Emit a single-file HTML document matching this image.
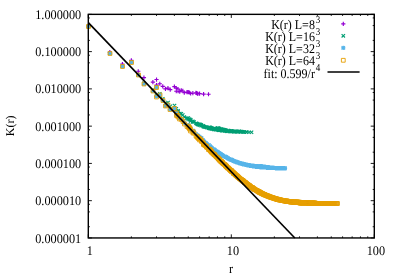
<!DOCTYPE html>
<html><head><meta charset="utf-8"><title>K(r)</title>
<style>
html,body{margin:0;padding:0;background:#fff;}
svg{display:block;font-family:"Liberation Serif",serif;font-size:13.2px;fill:#000;text-rendering:geometricPrecision;}
g.t{filter:grayscale(1);}
path{fill:none;}
</style></head><body>
<svg width="396" height="277" viewBox="0 0 396 277">
<rect x="0" y="0" width="396" height="277" fill="#fff"/>
<path d="M88.3 14.35h3.6M374.3 14.35h-3.6M88.3 17.96h1.6M374.3 17.96h-1.6M88.3 25.57h1.6M374.3 25.57h-1.6M88.3 40.4h1.6M374.3 40.4h-1.6M88.3 51.62h3.6M374.3 51.62h-3.6M88.3 55.23h1.6M374.3 55.23h-1.6M88.3 62.84h1.6M374.3 62.84h-1.6M88.3 77.66h1.6M374.3 77.66h-1.6M88.3 88.88h3.6M374.3 88.88h-3.6M88.3 92.49h1.6M374.3 92.49h-1.6M88.3 100.1h1.6M374.3 100.1h-1.6M88.3 114.93h1.6M374.3 114.93h-1.6M88.3 126.15h3.6M374.3 126.15h-3.6M88.3 129.76h1.6M374.3 129.76h-1.6M88.3 137.37h1.6M374.3 137.37h-1.6M88.3 152.2h1.6M374.3 152.2h-1.6M88.3 163.42h3.6M374.3 163.42h-3.6M88.3 167.03h1.6M374.3 167.03h-1.6M88.3 174.64h1.6M374.3 174.64h-1.6M88.3 189.46h1.6M374.3 189.46h-1.6M88.3 200.68h3.6M374.3 200.68h-3.6M88.3 204.29h1.6M374.3 204.29h-1.6M88.3 211.9h1.6M374.3 211.9h-1.6M88.3 226.73h1.6M374.3 226.73h-1.6M88.3 237.95h3.6M374.3 237.95h-3.6M88.3 237.95v-3.6M88.3 14.35v3.6M131.35 237.95v-1.6M131.35 14.35v1.6M156.53 237.95v-1.6M156.53 14.35v1.6M174.39 237.95v-1.6M174.39 14.35v1.6M188.25 237.95v-1.6M188.25 14.35v1.6M199.58 237.95v-1.6M199.58 14.35v1.6M209.15 237.95v-1.6M209.15 14.35v1.6M217.44 237.95v-1.6M217.44 14.35v1.6M224.76 237.95v-1.6M224.76 14.35v1.6M231.3 237.95v-3.6M231.3 14.35v3.6M274.35 237.95v-1.6M274.35 14.35v1.6M299.53 237.95v-1.6M299.53 14.35v1.6M317.39 237.95v-1.6M317.39 14.35v1.6M331.25 237.95v-1.6M331.25 14.35v1.6M342.58 237.95v-1.6M342.58 14.35v1.6M352.15 237.95v-1.6M352.15 14.35v1.6M360.44 237.95v-1.6M360.44 14.35v1.6M367.76 237.95v-1.6M367.76 14.35v1.6M374.3 237.95v-3.6M374.3 14.35v3.6" stroke="#000" stroke-width="0.9"/>
<path d="M86.2 26.29h4.2m-2.1-2.1v4.2M107.72 52.2h4.2m-2.1-2.1v4.2M120.31 64.02h4.2m-2.1-2.1v4.2M129.25 60.39h4.2m-2.1-2.1v4.2M136.18 71.23h4.2m-2.1-2.1v4.2M141.84 77.66h4.2m-2.1-2.1v4.2M150.77 82.08h4.2m-2.1-2.1v4.2M154.43 85.03h4.2m-2.1-2.1v4.2M163.36 88.86h4.2m-2.1-2.1v4.2M154.43 79.54h4.2m-2.1-2.1v4.2M157.7 83.75h4.2m-2.1-2.1v4.2M160.66 86.35h4.2m-2.1-2.1v4.2M165.85 88.12h4.2m-2.1-2.1v4.2M168.15 89.61h4.2m-2.1-2.1v4.2M174.18 91.23h4.2m-2.1-2.1v4.2M175.95 91.22h4.2m-2.1-2.1v4.2M177.63 91.69h4.2m-2.1-2.1v4.2M182.18 92.69h4.2m-2.1-2.1v4.2M188.54 93.52h4.2m-2.1-2.1v4.2M172.29 86.55h4.2m-2.1-2.1v4.2M174.18 88.08h4.2m-2.1-2.1v4.2M175.95 89.04h4.2m-2.1-2.1v4.2M179.22 90.4h4.2m-2.1-2.1v4.2M180.74 90.97h4.2m-2.1-2.1v4.2M184.89 92.19h4.2m-2.1-2.1v4.2M186.15 92.18h4.2m-2.1-2.1v4.2M187.37 92.49h4.2m-2.1-2.1v4.2M190.76 93.2h4.2m-2.1-2.1v4.2M195.7 93.83h4.2m-2.1-2.1v4.2M193.82 92.79h4.2m-2.1-2.1v4.2M194.77 93.03h4.2m-2.1-2.1v4.2M197.48 93.57h4.2m-2.1-2.1v4.2M201.51 94.07h4.2m-2.1-2.1v4.2M206.41 94.26h4.2m-2.1-2.1v4.2" stroke="#9400D3" stroke-width="1.15"/>
<path d="M86.55 24.8l3.4 3.4m-3.4 0l3.4-3.4M108.05 51.55l3.4 3.4m-3.4 0l3.4-3.4M120.8 64.55l3.4 3.4m-3.4 0l3.4-3.4M129.55 60.3l3.4 3.4m-3.4 0l3.4-3.4M136.55 73.05l3.4 3.4m-3.4 0l3.4-3.4M142.3 81.55l3.4 3.4m-3.4 0l3.4-3.4M151.05 88.3l3.4 3.4m-3.4 0l3.4-3.4M154.8 93.55l3.4 3.4m-3.4 0l3.4-3.4M163.8 101.8l3.4 3.4m-3.4 0l3.4-3.4M154.8 85.05l3.4 3.4m-3.4 0l3.4-3.4M158.05 92.05l3.4 3.4m-3.4 0l3.4-3.4M161.05 97.05l3.4 3.4m-3.4 0l3.4-3.4M166.3 100.8l3.4 3.4m-3.4 0l3.4-3.4M168.55 104.55l3.4 3.4m-3.4 0l3.4-3.4M174.55 109.3l3.4 3.4m-3.4 0l3.4-3.4M176.3 110.3l3.4 3.4m-3.4 0l3.4-3.4M178.05 111.8l3.4 3.4m-3.4 0l3.4-3.4M182.55 115.3l3.4 3.4m-3.4 0l3.4-3.4M189.05 119.3l3.4 3.4m-3.4 0l3.4-3.4M172.8 103.8l3.4 3.4m-3.4 0l3.4-3.4M174.55 107.05l3.4 3.4m-3.4 0l3.4-3.4M176.3 109.05l3.4 3.4m-3.4 0l3.4-3.4M179.55 112.05l3.4 3.4m-3.4 0l3.4-3.4M181.05 113.3l3.4 3.4m-3.4 0l3.4-3.4M185.3 116.55l3.4 3.4m-3.4 0l3.4-3.4M186.55 117.3l3.4 3.4m-3.4 0l3.4-3.4M187.8 118.05l3.4 3.4m-3.4 0l3.4-3.4M191.05 120.3l3.4 3.4m-3.4 0l3.4-3.4M196.05 122.8l3.4 3.4m-3.4 0l3.4-3.4M194.3 121.55l3.4 3.4m-3.4 0l3.4-3.4M195.05 122.05l3.4 3.4m-3.4 0l3.4-3.4M197.8 123.55l3.4 3.4m-3.4 0l3.4-3.4M201.8 125.05l3.4 3.4m-3.4 0l3.4-3.4M206.8 126.55l3.4 3.4m-3.4 0l3.4-3.4M186.55 116.3l3.4 3.4m-3.4 0l3.4-3.4M187.8 117.3l3.4 3.4m-3.4 0l3.4-3.4M189.05 118.05l3.4 3.4m-3.4 0l3.4-3.4M191.05 119.55l3.4 3.4m-3.4 0l3.4-3.4M192.3 120.3l3.4 3.4m-3.4 0l3.4-3.4M195.05 121.8l3.4 3.4m-3.4 0l3.4-3.4M196.05 122.3l3.4 3.4m-3.4 0l3.4-3.4M197.05 122.8l3.4 3.4m-3.4 0l3.4-3.4M199.55 124.05l3.4 3.4m-3.4 0l3.4-3.4M203.3 125.3l3.4 3.4m-3.4 0l3.4-3.4M201.8 124.8l3.4 3.4m-3.4 0l3.4-3.4M202.55 125.05l3.4 3.4m-3.4 0l3.4-3.4M204.8 125.8l3.4 3.4m-3.4 0l3.4-3.4M208.05 126.8l3.4 3.4m-3.4 0l3.4-3.4M212.05 127.8l3.4 3.4m-3.4 0l3.4-3.4M208.05 126.55l3.4 3.4m-3.4 0l3.4-3.4M208.8 126.8l3.4 3.4m-3.4 0l3.4-3.4M210.55 127.3l3.4 3.4m-3.4 0l3.4-3.4M213.3 127.8l3.4 3.4m-3.4 0l3.4-3.4M216.8 128.55l3.4 3.4m-3.4 0l3.4-3.4M220.55 129.05l3.4 3.4m-3.4 0l3.4-3.4M197.8 122.55l3.4 3.4m-3.4 0l3.4-3.4M198.8 122.8l3.4 3.4m-3.4 0l3.4-3.4M199.55 123.3l3.4 3.4m-3.4 0l3.4-3.4M201.05 124.05l3.4 3.4m-3.4 0l3.4-3.4M201.8 124.3l3.4 3.4m-3.4 0l3.4-3.4M204.05 125.3l3.4 3.4m-3.4 0l3.4-3.4M204.8 125.55l3.4 3.4m-3.4 0l3.4-3.4M205.55 125.8l3.4 3.4m-3.4 0l3.4-3.4M207.55 126.3l3.4 3.4m-3.4 0l3.4-3.4M210.55 127.05l3.4 3.4m-3.4 0l3.4-3.4M209.3 126.8l3.4 3.4m-3.4 0l3.4-3.4M209.8 127.05l3.4 3.4m-3.4 0l3.4-3.4M211.55 127.3l3.4 3.4m-3.4 0l3.4-3.4M214.3 128.05l3.4 3.4m-3.4 0l3.4-3.4M217.55 128.55l3.4 3.4m-3.4 0l3.4-3.4M214.3 127.8l3.4 3.4m-3.4 0l3.4-3.4M214.8 128.05l3.4 3.4m-3.4 0l3.4-3.4M216.3 128.3l3.4 3.4m-3.4 0l3.4-3.4M218.55 128.55l3.4 3.4m-3.4 0l3.4-3.4M221.55 129.05l3.4 3.4m-3.4 0l3.4-3.4M224.8 129.55l3.4 3.4m-3.4 0l3.4-3.4M219.3 128.55l3.4 3.4m-3.4 0l3.4-3.4M219.8 128.8l3.4 3.4m-3.4 0l3.4-3.4M221.05 128.8l3.4 3.4m-3.4 0l3.4-3.4M223.05 129.3l3.4 3.4m-3.4 0l3.4-3.4M225.55 129.55l3.4 3.4m-3.4 0l3.4-3.4M228.55 129.8l3.4 3.4m-3.4 0l3.4-3.4M232.05 130.05l3.4 3.4m-3.4 0l3.4-3.4M207.55 125.55l3.4 3.4m-3.4 0l3.4-3.4M208.05 125.55l3.4 3.4m-3.4 0l3.4-3.4M208.8 125.8l3.4 3.4m-3.4 0l3.4-3.4M209.8 126.3l3.4 3.4m-3.4 0l3.4-3.4M210.55 126.55l3.4 3.4m-3.4 0l3.4-3.4M212.05 126.8l3.4 3.4m-3.4 0l3.4-3.4M212.8 127.05l3.4 3.4m-3.4 0l3.4-3.4M213.3 127.05l3.4 3.4m-3.4 0l3.4-3.4M214.8 127.55l3.4 3.4m-3.4 0l3.4-3.4M217.05 128.05l3.4 3.4m-3.4 0l3.4-3.4M216.3 127.8l3.4 3.4m-3.4 0l3.4-3.4M216.8 128.05l3.4 3.4m-3.4 0l3.4-3.4M218.05 128.3l3.4 3.4m-3.4 0l3.4-3.4M220.3 128.55l3.4 3.4m-3.4 0l3.4-3.4M223.05 129.05l3.4 3.4m-3.4 0l3.4-3.4M220.55 128.55l3.4 3.4m-3.4 0l3.4-3.4M221.8 128.8l3.4 3.4m-3.4 0l3.4-3.4M223.8 129.05l3.4 3.4m-3.4 0l3.4-3.4M226.3 129.55l3.4 3.4m-3.4 0l3.4-3.4M229.3 129.8l3.4 3.4m-3.4 0l3.4-3.4M224.55 129.05l3.4 3.4m-3.4 0l3.4-3.4M224.8 129.05l3.4 3.4m-3.4 0l3.4-3.4M226.05 129.3l3.4 3.4m-3.4 0l3.4-3.4M227.8 129.55l3.4 3.4m-3.4 0l3.4-3.4M229.8 129.8l3.4 3.4m-3.4 0l3.4-3.4M232.55 130.05l3.4 3.4m-3.4 0l3.4-3.4M235.55 130.05l3.4 3.4m-3.4 0l3.4-3.4M229.05 129.3l3.4 3.4m-3.4 0l3.4-3.4M229.3 129.3l3.4 3.4m-3.4 0l3.4-3.4M230.3 129.55l3.4 3.4m-3.4 0l3.4-3.4M231.8 129.8l3.4 3.4m-3.4 0l3.4-3.4M233.55 130.05l3.4 3.4m-3.4 0l3.4-3.4M236.05 130.05l3.4 3.4m-3.4 0l3.4-3.4M238.8 130.3l3.4 3.4m-3.4 0l3.4-3.4M241.55 130.3l3.4 3.4m-3.4 0l3.4-3.4M215.8 126.3l3.4 3.4m-3.4 0l3.4-3.4M216.3 126.3l3.4 3.4m-3.4 0l3.4-3.4M216.8 126.55l3.4 3.4m-3.4 0l3.4-3.4M217.55 126.8l3.4 3.4m-3.4 0l3.4-3.4M218.05 127.05l3.4 3.4m-3.4 0l3.4-3.4M219.3 127.3l3.4 3.4m-3.4 0l3.4-3.4M219.8 127.55l3.4 3.4m-3.4 0l3.4-3.4M220.3 127.55l3.4 3.4m-3.4 0l3.4-3.4M221.55 127.8l3.4 3.4m-3.4 0l3.4-3.4M223.55 128.3l3.4 3.4m-3.4 0l3.4-3.4M222.55 128.05l3.4 3.4m-3.4 0l3.4-3.4M223.05 128.3l3.4 3.4m-3.4 0l3.4-3.4M224.3 128.55l3.4 3.4m-3.4 0l3.4-3.4M226.05 128.8l3.4 3.4m-3.4 0l3.4-3.4M228.3 129.3l3.4 3.4m-3.4 0l3.4-3.4M226.3 128.8l3.4 3.4m-3.4 0l3.4-3.4M227.3 129.05l3.4 3.4m-3.4 0l3.4-3.4M231.05 129.55l3.4 3.4m-3.4 0l3.4-3.4M233.55 129.8l3.4 3.4m-3.4 0l3.4-3.4M229.55 129.3l3.4 3.4m-3.4 0l3.4-3.4M229.8 129.3l3.4 3.4m-3.4 0l3.4-3.4M230.8 129.3l3.4 3.4m-3.4 0l3.4-3.4M232.3 129.55l3.4 3.4m-3.4 0l3.4-3.4M234.3 129.8l3.4 3.4m-3.4 0l3.4-3.4M236.55 130.05l3.4 3.4m-3.4 0l3.4-3.4M239.05 130.3l3.4 3.4m-3.4 0l3.4-3.4M233.3 129.55l3.4 3.4m-3.4 0l3.4-3.4M233.55 129.55l3.4 3.4m-3.4 0l3.4-3.4M234.55 129.55l3.4 3.4m-3.4 0l3.4-3.4M235.8 129.8l3.4 3.4m-3.4 0l3.4-3.4M237.55 130.05l3.4 3.4m-3.4 0l3.4-3.4M239.55 130.05l3.4 3.4m-3.4 0l3.4-3.4M242.05 130.3l3.4 3.4m-3.4 0l3.4-3.4M244.55 130.3l3.4 3.4m-3.4 0l3.4-3.4M237.3 129.55l3.4 3.4m-3.4 0l3.4-3.4M237.55 129.55l3.4 3.4m-3.4 0l3.4-3.4M238.3 129.8l3.4 3.4m-3.4 0l3.4-3.4M239.3 129.8l3.4 3.4m-3.4 0l3.4-3.4M240.8 130.05l3.4 3.4m-3.4 0l3.4-3.4M242.8 130.3l3.4 3.4m-3.4 0l3.4-3.4M245.05 130.3l3.4 3.4m-3.4 0l3.4-3.4M247.3 130.55l3.4 3.4m-3.4 0l3.4-3.4M249.8 130.55l3.4 3.4m-3.4 0l3.4-3.4" stroke="#009E73" stroke-width="1.15"/>
<path d="M86.4 26.5h4.2m-2.1-2.1v4.2M107.9 53.5h4.2m-2.1-2.1v4.2M120.4 66.5h4.2m-2.1-2.1v4.2M129.4 62.5h4.2m-2.1-2.1v4.2M136.4 75h4.2m-2.1-2.1v4.2M141.9 84h4.2m-2.1-2.1v4.2M150.9 91h4.2m-2.1-2.1v4.2M154.4 96.5h4.2m-2.1-2.1v4.2M163.4 106h4.2m-2.1-2.1v4.2M154.4 87.5h4.2m-2.1-2.1v4.2M157.9 95h4.2m-2.1-2.1v4.2M160.9 100.5h4.2m-2.1-2.1v4.2M165.9 105h4.2m-2.1-2.1v4.2M167.9 109.5h4.2m-2.1-2.1v4.2M174.4 115h4.2m-2.1-2.1v4.2M175.9 116.5h4.2m-2.1-2.1v4.2M177.4 118.5h4.2m-2.1-2.1v4.2M182.4 123h4.2m-2.1-2.1v4.2M188.4 129.5h4.2m-2.1-2.1v4.2M172.4 108.5h4.2m-2.1-2.1v4.2M174.4 112.5h4.2m-2.1-2.1v4.2M175.9 115h4.2m-2.1-2.1v4.2M179.4 119h4.2m-2.1-2.1v4.2M180.9 120.5h4.2m-2.1-2.1v4.2M184.9 125.5h4.2m-2.1-2.1v4.2M186.4 126.5h4.2m-2.1-2.1v4.2M187.4 128h4.2m-2.1-2.1v4.2M190.9 131.5h4.2m-2.1-2.1v4.2M195.9 136.5h4.2m-2.1-2.1v4.2M193.9 134h4.2m-2.1-2.1v4.2M194.9 135h4.2m-2.1-2.1v4.2M197.4 138h4.2m-2.1-2.1v4.2M201.4 141.5h4.2m-2.1-2.1v4.2M206.4 145.5h4.2m-2.1-2.1v4.2M186.4 125h4.2m-2.1-2.1v4.2M187.4 126.5h4.2m-2.1-2.1v4.2M188.4 128h4.2m-2.1-2.1v4.2M190.9 130.5h4.2m-2.1-2.1v4.2M191.9 131.5h4.2m-2.1-2.1v4.2M195.9 135.5h4.2m-2.1-2.1v4.2M196.4 136.5h4.2m-2.1-2.1v4.2M199.4 139h4.2m-2.1-2.1v4.2M202.9 142.5h4.2m-2.1-2.1v4.2M201.4 141h4.2m-2.1-2.1v4.2M202.4 142h4.2m-2.1-2.1v4.2M204.4 144h4.2m-2.1-2.1v4.2M207.9 146.5h4.2m-2.1-2.1v4.2M211.9 149.5h4.2m-2.1-2.1v4.2M208.4 147h4.2m-2.1-2.1v4.2M209.9 148.5h4.2m-2.1-2.1v4.2M212.9 150.5h4.2m-2.1-2.1v4.2M216.4 153h4.2m-2.1-2.1v4.2M220.4 155.5h4.2m-2.1-2.1v4.2M197.4 136.5h4.2m-2.1-2.1v4.2M198.4 137.5h4.2m-2.1-2.1v4.2M199.4 138h4.2m-2.1-2.1v4.2M200.9 140h4.2m-2.1-2.1v4.2M201.4 140.5h4.2m-2.1-2.1v4.2M203.9 143h4.2m-2.1-2.1v4.2M204.4 143.5h4.2m-2.1-2.1v4.2M204.9 144h4.2m-2.1-2.1v4.2M206.9 146h4.2m-2.1-2.1v4.2M208.9 147.5h4.2m-2.1-2.1v4.2M209.4 148h4.2m-2.1-2.1v4.2M211.4 149h4.2m-2.1-2.1v4.2M213.9 151h4.2m-2.1-2.1v4.2M217.4 153.5h4.2m-2.1-2.1v4.2M214.4 151.5h4.2m-2.1-2.1v4.2M215.9 152.5h4.2m-2.1-2.1v4.2M217.9 154h4.2m-2.1-2.1v4.2M220.9 156h4.2m-2.1-2.1v4.2M224.4 157.5h4.2m-2.1-2.1v4.2M218.9 154.5h4.2m-2.1-2.1v4.2M219.4 154.5h4.2m-2.1-2.1v4.2M220.9 155.5h4.2m-2.1-2.1v4.2M222.9 156.5h4.2m-2.1-2.1v4.2M225.4 158h4.2m-2.1-2.1v4.2M228.4 159.5h4.2m-2.1-2.1v4.2M231.4 161h4.2m-2.1-2.1v4.2M206.9 145h4.2m-2.1-2.1v4.2M207.9 146h4.2m-2.1-2.1v4.2M208.4 146.5h4.2m-2.1-2.1v4.2M209.4 147.5h4.2m-2.1-2.1v4.2M209.9 148h4.2m-2.1-2.1v4.2M212.4 149.5h4.2m-2.1-2.1v4.2M212.9 150h4.2m-2.1-2.1v4.2M216.9 153h4.2m-2.1-2.1v4.2M216.4 152.5h4.2m-2.1-2.1v4.2M217.9 153.5h4.2m-2.1-2.1v4.2M219.9 155h4.2m-2.1-2.1v4.2M220.4 155h4.2m-2.1-2.1v4.2M221.4 156h4.2m-2.1-2.1v4.2M223.4 157h4.2m-2.1-2.1v4.2M225.9 158.5h4.2m-2.1-2.1v4.2M228.9 160h4.2m-2.1-2.1v4.2M227.4 159h4.2m-2.1-2.1v4.2M229.4 160h4.2m-2.1-2.1v4.2M232.4 161.5h4.2m-2.1-2.1v4.2M234.9 162.5h4.2m-2.1-2.1v4.2M229.9 160h4.2m-2.1-2.1v4.2M233.4 161.5h4.2m-2.1-2.1v4.2M235.4 162.5h4.2m-2.1-2.1v4.2M238.4 163.5h4.2m-2.1-2.1v4.2M241.4 164h4.2m-2.1-2.1v4.2M215.4 151.5h4.2m-2.1-2.1v4.2M215.9 152h4.2m-2.1-2.1v4.2M217.4 153h4.2m-2.1-2.1v4.2M218.9 154h4.2m-2.1-2.1v4.2M222.4 156.5h4.2m-2.1-2.1v4.2M223.9 157h4.2m-2.1-2.1v4.2M227.9 159.5h4.2m-2.1-2.1v4.2M226.9 159h4.2m-2.1-2.1v4.2M230.9 160.5h4.2m-2.1-2.1v4.2M230.4 160.5h4.2m-2.1-2.1v4.2M231.9 161h4.2m-2.1-2.1v4.2M233.9 162h4.2m-2.1-2.1v4.2M235.9 162.5h4.2m-2.1-2.1v4.2M238.9 163.5h4.2m-2.1-2.1v4.2M232.9 161.5h4.2m-2.1-2.1v4.2M236.9 163h4.2m-2.1-2.1v4.2M239.4 163.5h4.2m-2.1-2.1v4.2M241.4 164.5h4.2m-2.1-2.1v4.2M244.4 165h4.2m-2.1-2.1v4.2M237.9 163h4.2m-2.1-2.1v4.2M240.4 164h4.2m-2.1-2.1v4.2M242.4 164.5h4.2m-2.1-2.1v4.2M246.9 165.5h4.2m-2.1-2.1v4.2M249.4 166h4.2m-2.1-2.1v4.2M223.4 156.5h4.2m-2.1-2.1v4.2M224.4 157h4.2m-2.1-2.1v4.2M225.9 158h4.2m-2.1-2.1v4.2M226.4 158.5h4.2m-2.1-2.1v4.2M228.9 159.5h4.2m-2.1-2.1v4.2M232.4 161h4.2m-2.1-2.1v4.2M237.4 163h4.2m-2.1-2.1v4.2M234.4 162h4.2m-2.1-2.1v4.2M236.4 162.5h4.2m-2.1-2.1v4.2M237.9 163.5h4.2m-2.1-2.1v4.2M239.9 164h4.2m-2.1-2.1v4.2M240.9 164h4.2m-2.1-2.1v4.2M242.9 164.5h4.2m-2.1-2.1v4.2M244.9 165h4.2m-2.1-2.1v4.2M247.4 165.5h4.2m-2.1-2.1v4.2M243.9 165h4.2m-2.1-2.1v4.2M245.9 165.5h4.2m-2.1-2.1v4.2M249.9 166h4.2m-2.1-2.1v4.2M251.9 166.5h4.2m-2.1-2.1v4.2M248.4 166h4.2m-2.1-2.1v4.2M250.4 166h4.2m-2.1-2.1v4.2M252.4 166.5h4.2m-2.1-2.1v4.2M254.4 167h4.2m-2.1-2.1v4.2M256.9 167h4.2m-2.1-2.1v4.2M229.4 159.5h4.2m-2.1-2.1v4.2M230.4 160h4.2m-2.1-2.1v4.2M233.9 161.5h4.2m-2.1-2.1v4.2M234.9 162h4.2m-2.1-2.1v4.2M241.9 164.5h4.2m-2.1-2.1v4.2M243.4 164.5h4.2m-2.1-2.1v4.2M246.4 165.5h4.2m-2.1-2.1v4.2M245.4 165h4.2m-2.1-2.1v4.2M248.9 166h4.2m-2.1-2.1v4.2M250.9 166h4.2m-2.1-2.1v4.2M252.9 166.5h4.2m-2.1-2.1v4.2M254.9 167h4.2m-2.1-2.1v4.2M247.9 165.5h4.2m-2.1-2.1v4.2M251.4 166.5h4.2m-2.1-2.1v4.2M253.4 166.5h4.2m-2.1-2.1v4.2M258.9 167.5h4.2m-2.1-2.1v4.2M254.4 166.5h4.2m-2.1-2.1v4.2M255.9 167h4.2m-2.1-2.1v4.2M257.4 167h4.2m-2.1-2.1v4.2M259.4 167.5h4.2m-2.1-2.1v4.2M261.4 167.5h4.2m-2.1-2.1v4.2M263.4 167.5h4.2m-2.1-2.1v4.2M235.4 162h4.2m-2.1-2.1v4.2M238.4 163h4.2m-2.1-2.1v4.2M239.9 163.5h4.2m-2.1-2.1v4.2M241.9 164h4.2m-2.1-2.1v4.2M245.9 165h4.2m-2.1-2.1v4.2M248.4 165.5h4.2m-2.1-2.1v4.2M253.9 166.5h4.2m-2.1-2.1v4.2M255.4 167h4.2m-2.1-2.1v4.2M251.4 166h4.2m-2.1-2.1v4.2M257.9 167h4.2m-2.1-2.1v4.2M258.4 167h4.2m-2.1-2.1v4.2M259.9 167.5h4.2m-2.1-2.1v4.2M261.9 167.5h4.2m-2.1-2.1v4.2M265.4 168h4.2m-2.1-2.1v4.2M256.4 167h4.2m-2.1-2.1v4.2M260.9 167.5h4.2m-2.1-2.1v4.2M262.4 167.5h4.2m-2.1-2.1v4.2M263.9 167.5h4.2m-2.1-2.1v4.2M267.4 168h4.2m-2.1-2.1v4.2M269.4 168h4.2m-2.1-2.1v4.2M240.4 163.5h4.2m-2.1-2.1v4.2M242.4 164h4.2m-2.1-2.1v4.2M244.4 164.5h4.2m-2.1-2.1v4.2M243.9 164.5h4.2m-2.1-2.1v4.2M246.4 165h4.2m-2.1-2.1v4.2M254.9 166.5h4.2m-2.1-2.1v4.2M260.4 167.5h4.2m-2.1-2.1v4.2M258.9 167h4.2m-2.1-2.1v4.2M265.9 168h4.2m-2.1-2.1v4.2M259.4 167h4.2m-2.1-2.1v4.2M264.9 167.5h4.2m-2.1-2.1v4.2M266.4 168h4.2m-2.1-2.1v4.2M267.9 168h4.2m-2.1-2.1v4.2M270.9 168h4.2m-2.1-2.1v4.2M262.9 167.5h4.2m-2.1-2.1v4.2M264.4 167.5h4.2m-2.1-2.1v4.2M266.9 168h4.2m-2.1-2.1v4.2M268.4 168h4.2m-2.1-2.1v4.2M269.9 168h4.2m-2.1-2.1v4.2M271.4 168h4.2m-2.1-2.1v4.2M272.9 168h4.2m-2.1-2.1v4.2M274.4 168.5h4.2m-2.1-2.1v4.2M246.9 165h4.2m-2.1-2.1v4.2M247.4 165h4.2m-2.1-2.1v4.2M248.9 165.5h4.2m-2.1-2.1v4.2M249.9 165.5h4.2m-2.1-2.1v4.2M252.4 166h4.2m-2.1-2.1v4.2M251.9 166h4.2m-2.1-2.1v4.2M255.4 166.5h4.2m-2.1-2.1v4.2M259.9 167h4.2m-2.1-2.1v4.2M265.4 167.5h4.2m-2.1-2.1v4.2M266.4 167.5h4.2m-2.1-2.1v4.2M268.9 168h4.2m-2.1-2.1v4.2M270.4 168h4.2m-2.1-2.1v4.2M271.9 168h4.2m-2.1-2.1v4.2M273.4 168h4.2m-2.1-2.1v4.2M274.9 168.5h4.2m-2.1-2.1v4.2M276.4 168.5h4.2m-2.1-2.1v4.2M266.9 167.5h4.2m-2.1-2.1v4.2M267.4 167.5h4.2m-2.1-2.1v4.2M272.4 168h4.2m-2.1-2.1v4.2M273.9 168h4.2m-2.1-2.1v4.2M277.9 168.5h4.2m-2.1-2.1v4.2M279.4 168.5h4.2m-2.1-2.1v4.2M250.4 165.5h4.2m-2.1-2.1v4.2M250.9 165.5h4.2m-2.1-2.1v4.2M252.9 166h4.2m-2.1-2.1v4.2M253.9 166h4.2m-2.1-2.1v4.2M255.9 166.5h4.2m-2.1-2.1v4.2M257.4 166.5h4.2m-2.1-2.1v4.2M256.4 166.5h4.2m-2.1-2.1v4.2M256.9 166.5h4.2m-2.1-2.1v4.2M261.4 167h4.2m-2.1-2.1v4.2M260.9 167h4.2m-2.1-2.1v4.2M265.9 167.5h4.2m-2.1-2.1v4.2M274.9 168h4.2m-2.1-2.1v4.2M275.4 168h4.2m-2.1-2.1v4.2M276.9 168.5h4.2m-2.1-2.1v4.2M278.4 168.5h4.2m-2.1-2.1v4.2M274.4 168h4.2m-2.1-2.1v4.2M279.9 168.5h4.2m-2.1-2.1v4.2M281.4 168.5h4.2m-2.1-2.1v4.2M276.4 168h4.2m-2.1-2.1v4.2M277.4 168.5h4.2m-2.1-2.1v4.2M278.9 168.5h4.2m-2.1-2.1v4.2M282.9 168.5h4.2m-2.1-2.1v4.2M254.4 166h4.2m-2.1-2.1v4.2M254.9 166h4.2m-2.1-2.1v4.2M255.4 166h4.2m-2.1-2.1v4.2M255.9 166h4.2m-2.1-2.1v4.2M257.9 166.5h4.2m-2.1-2.1v4.2M258.4 166.5h4.2m-2.1-2.1v4.2M258.9 166.5h4.2m-2.1-2.1v4.2M260.4 167h4.2m-2.1-2.1v4.2M259.4 166.5h4.2m-2.1-2.1v4.2M261.9 167h4.2m-2.1-2.1v4.2M262.9 167h4.2m-2.1-2.1v4.2M262.4 167h4.2m-2.1-2.1v4.2M263.4 167h4.2m-2.1-2.1v4.2M268.4 167.5h4.2m-2.1-2.1v4.2M267.9 167.5h4.2m-2.1-2.1v4.2M275.9 168h4.2m-2.1-2.1v4.2M277.4 168h4.2m-2.1-2.1v4.2M278.4 168h4.2m-2.1-2.1v4.2M280.4 168.5h4.2m-2.1-2.1v4.2M281.9 168.5h4.2m-2.1-2.1v4.2M276.9 168h4.2m-2.1-2.1v4.2M278.9 168h4.2m-2.1-2.1v4.2M280.9 168.5h4.2m-2.1-2.1v4.2M258.4 166h4.2m-2.1-2.1v4.2M258.9 166h4.2m-2.1-2.1v4.2M259.4 166h4.2m-2.1-2.1v4.2M259.9 166.5h4.2m-2.1-2.1v4.2M260.4 166.5h4.2m-2.1-2.1v4.2M260.9 166.5h4.2m-2.1-2.1v4.2M261.4 166.5h4.2m-2.1-2.1v4.2M261.9 166.5h4.2m-2.1-2.1v4.2M262.4 166.5h4.2m-2.1-2.1v4.2M263.9 167h4.2m-2.1-2.1v4.2M264.9 167h4.2m-2.1-2.1v4.2M265.9 167h4.2m-2.1-2.1v4.2M264.4 167h4.2m-2.1-2.1v4.2M265.4 167h4.2m-2.1-2.1v4.2M266.4 167h4.2m-2.1-2.1v4.2M269.9 167.5h4.2m-2.1-2.1v4.2M268.9 167.5h4.2m-2.1-2.1v4.2M269.4 167.5h4.2m-2.1-2.1v4.2M270.9 167.5h4.2m-2.1-2.1v4.2M270.4 167.5h4.2m-2.1-2.1v4.2M277.9 168h4.2m-2.1-2.1v4.2M279.4 168h4.2m-2.1-2.1v4.2M280.4 168h4.2m-2.1-2.1v4.2M282.4 168.5h4.2m-2.1-2.1v4.2M280.9 168h4.2m-2.1-2.1v4.2M279.9 168h4.2m-2.1-2.1v4.2M281.4 168h4.2m-2.1-2.1v4.2M281.9 168h4.2m-2.1-2.1v4.2M282.9 168h4.2m-2.1-2.1v4.2M86.8 24.8l3.4 3.4m-3.4 0l3.4-3.4M108.3 51.8l3.4 3.4m-3.4 0l3.4-3.4M120.8 64.8l3.4 3.4m-3.4 0l3.4-3.4M129.8 60.8l3.4 3.4m-3.4 0l3.4-3.4M136.8 73.3l3.4 3.4m-3.4 0l3.4-3.4M142.3 82.3l3.4 3.4m-3.4 0l3.4-3.4M151.3 89.3l3.4 3.4m-3.4 0l3.4-3.4M154.8 94.8l3.4 3.4m-3.4 0l3.4-3.4M163.8 104.3l3.4 3.4m-3.4 0l3.4-3.4M154.8 85.8l3.4 3.4m-3.4 0l3.4-3.4M158.3 93.3l3.4 3.4m-3.4 0l3.4-3.4M161.3 98.8l3.4 3.4m-3.4 0l3.4-3.4M166.3 103.3l3.4 3.4m-3.4 0l3.4-3.4M168.3 107.8l3.4 3.4m-3.4 0l3.4-3.4M174.8 113.3l3.4 3.4m-3.4 0l3.4-3.4M176.3 114.8l3.4 3.4m-3.4 0l3.4-3.4M177.8 116.8l3.4 3.4m-3.4 0l3.4-3.4M182.8 121.3l3.4 3.4m-3.4 0l3.4-3.4M188.8 127.8l3.4 3.4m-3.4 0l3.4-3.4M172.8 106.8l3.4 3.4m-3.4 0l3.4-3.4M174.8 110.8l3.4 3.4m-3.4 0l3.4-3.4M176.3 113.3l3.4 3.4m-3.4 0l3.4-3.4M179.8 117.3l3.4 3.4m-3.4 0l3.4-3.4M181.3 118.8l3.4 3.4m-3.4 0l3.4-3.4M185.3 123.8l3.4 3.4m-3.4 0l3.4-3.4M186.8 124.8l3.4 3.4m-3.4 0l3.4-3.4M187.8 126.3l3.4 3.4m-3.4 0l3.4-3.4M191.3 129.8l3.4 3.4m-3.4 0l3.4-3.4M196.3 134.8l3.4 3.4m-3.4 0l3.4-3.4M194.3 132.3l3.4 3.4m-3.4 0l3.4-3.4M195.3 133.3l3.4 3.4m-3.4 0l3.4-3.4M197.8 136.3l3.4 3.4m-3.4 0l3.4-3.4M201.8 139.8l3.4 3.4m-3.4 0l3.4-3.4M206.8 143.8l3.4 3.4m-3.4 0l3.4-3.4M186.8 123.3l3.4 3.4m-3.4 0l3.4-3.4M187.8 124.8l3.4 3.4m-3.4 0l3.4-3.4M188.8 126.3l3.4 3.4m-3.4 0l3.4-3.4M191.3 128.8l3.4 3.4m-3.4 0l3.4-3.4M192.3 129.8l3.4 3.4m-3.4 0l3.4-3.4M196.3 133.8l3.4 3.4m-3.4 0l3.4-3.4M196.8 134.8l3.4 3.4m-3.4 0l3.4-3.4M199.8 137.3l3.4 3.4m-3.4 0l3.4-3.4M203.3 140.8l3.4 3.4m-3.4 0l3.4-3.4M201.8 139.3l3.4 3.4m-3.4 0l3.4-3.4M202.8 140.3l3.4 3.4m-3.4 0l3.4-3.4M204.8 142.3l3.4 3.4m-3.4 0l3.4-3.4M208.3 144.8l3.4 3.4m-3.4 0l3.4-3.4M212.3 147.8l3.4 3.4m-3.4 0l3.4-3.4M208.8 145.3l3.4 3.4m-3.4 0l3.4-3.4M210.3 146.8l3.4 3.4m-3.4 0l3.4-3.4M213.3 148.8l3.4 3.4m-3.4 0l3.4-3.4M216.8 151.3l3.4 3.4m-3.4 0l3.4-3.4M220.8 153.8l3.4 3.4m-3.4 0l3.4-3.4M197.8 134.8l3.4 3.4m-3.4 0l3.4-3.4M198.8 135.8l3.4 3.4m-3.4 0l3.4-3.4M199.8 136.3l3.4 3.4m-3.4 0l3.4-3.4M201.3 138.3l3.4 3.4m-3.4 0l3.4-3.4M201.8 138.8l3.4 3.4m-3.4 0l3.4-3.4M204.3 141.3l3.4 3.4m-3.4 0l3.4-3.4M204.8 141.8l3.4 3.4m-3.4 0l3.4-3.4M205.3 142.3l3.4 3.4m-3.4 0l3.4-3.4M207.3 144.3l3.4 3.4m-3.4 0l3.4-3.4M209.3 145.8l3.4 3.4m-3.4 0l3.4-3.4M209.8 146.3l3.4 3.4m-3.4 0l3.4-3.4M211.8 147.3l3.4 3.4m-3.4 0l3.4-3.4M214.3 149.3l3.4 3.4m-3.4 0l3.4-3.4M217.8 151.8l3.4 3.4m-3.4 0l3.4-3.4M214.8 149.8l3.4 3.4m-3.4 0l3.4-3.4M216.3 150.8l3.4 3.4m-3.4 0l3.4-3.4M218.3 152.3l3.4 3.4m-3.4 0l3.4-3.4M221.3 154.3l3.4 3.4m-3.4 0l3.4-3.4M224.8 155.8l3.4 3.4m-3.4 0l3.4-3.4M219.3 152.8l3.4 3.4m-3.4 0l3.4-3.4M219.8 152.8l3.4 3.4m-3.4 0l3.4-3.4M221.3 153.8l3.4 3.4m-3.4 0l3.4-3.4M223.3 154.8l3.4 3.4m-3.4 0l3.4-3.4M225.8 156.3l3.4 3.4m-3.4 0l3.4-3.4M228.8 157.8l3.4 3.4m-3.4 0l3.4-3.4M231.8 159.3l3.4 3.4m-3.4 0l3.4-3.4M207.3 143.3l3.4 3.4m-3.4 0l3.4-3.4M208.3 144.3l3.4 3.4m-3.4 0l3.4-3.4M208.8 144.8l3.4 3.4m-3.4 0l3.4-3.4M209.8 145.8l3.4 3.4m-3.4 0l3.4-3.4M210.3 146.3l3.4 3.4m-3.4 0l3.4-3.4M212.8 147.8l3.4 3.4m-3.4 0l3.4-3.4M213.3 148.3l3.4 3.4m-3.4 0l3.4-3.4M217.3 151.3l3.4 3.4m-3.4 0l3.4-3.4M216.8 150.8l3.4 3.4m-3.4 0l3.4-3.4M218.3 151.8l3.4 3.4m-3.4 0l3.4-3.4M220.3 153.3l3.4 3.4m-3.4 0l3.4-3.4M220.8 153.3l3.4 3.4m-3.4 0l3.4-3.4M221.8 154.3l3.4 3.4m-3.4 0l3.4-3.4M223.8 155.3l3.4 3.4m-3.4 0l3.4-3.4M226.3 156.8l3.4 3.4m-3.4 0l3.4-3.4M229.3 158.3l3.4 3.4m-3.4 0l3.4-3.4M227.8 157.3l3.4 3.4m-3.4 0l3.4-3.4M229.8 158.3l3.4 3.4m-3.4 0l3.4-3.4M232.8 159.8l3.4 3.4m-3.4 0l3.4-3.4M235.3 160.8l3.4 3.4m-3.4 0l3.4-3.4M230.3 158.3l3.4 3.4m-3.4 0l3.4-3.4M233.8 159.8l3.4 3.4m-3.4 0l3.4-3.4M235.8 160.8l3.4 3.4m-3.4 0l3.4-3.4M238.8 161.8l3.4 3.4m-3.4 0l3.4-3.4M241.8 162.3l3.4 3.4m-3.4 0l3.4-3.4M215.8 149.8l3.4 3.4m-3.4 0l3.4-3.4M216.3 150.3l3.4 3.4m-3.4 0l3.4-3.4M217.8 151.3l3.4 3.4m-3.4 0l3.4-3.4M219.3 152.3l3.4 3.4m-3.4 0l3.4-3.4M222.8 154.8l3.4 3.4m-3.4 0l3.4-3.4M224.3 155.3l3.4 3.4m-3.4 0l3.4-3.4M228.3 157.8l3.4 3.4m-3.4 0l3.4-3.4M227.3 157.3l3.4 3.4m-3.4 0l3.4-3.4M231.3 158.8l3.4 3.4m-3.4 0l3.4-3.4M230.8 158.8l3.4 3.4m-3.4 0l3.4-3.4M232.3 159.3l3.4 3.4m-3.4 0l3.4-3.4M234.3 160.3l3.4 3.4m-3.4 0l3.4-3.4M236.3 160.8l3.4 3.4m-3.4 0l3.4-3.4M239.3 161.8l3.4 3.4m-3.4 0l3.4-3.4M233.3 159.8l3.4 3.4m-3.4 0l3.4-3.4M237.3 161.3l3.4 3.4m-3.4 0l3.4-3.4M239.8 161.8l3.4 3.4m-3.4 0l3.4-3.4M241.8 162.8l3.4 3.4m-3.4 0l3.4-3.4M244.8 163.3l3.4 3.4m-3.4 0l3.4-3.4M238.3 161.3l3.4 3.4m-3.4 0l3.4-3.4M240.8 162.3l3.4 3.4m-3.4 0l3.4-3.4M242.8 162.8l3.4 3.4m-3.4 0l3.4-3.4M247.3 163.8l3.4 3.4m-3.4 0l3.4-3.4M249.8 164.3l3.4 3.4m-3.4 0l3.4-3.4M223.8 154.8l3.4 3.4m-3.4 0l3.4-3.4M224.8 155.3l3.4 3.4m-3.4 0l3.4-3.4M226.3 156.3l3.4 3.4m-3.4 0l3.4-3.4M226.8 156.8l3.4 3.4m-3.4 0l3.4-3.4M229.3 157.8l3.4 3.4m-3.4 0l3.4-3.4M232.8 159.3l3.4 3.4m-3.4 0l3.4-3.4M237.8 161.3l3.4 3.4m-3.4 0l3.4-3.4M234.8 160.3l3.4 3.4m-3.4 0l3.4-3.4M236.8 160.8l3.4 3.4m-3.4 0l3.4-3.4M238.3 161.8l3.4 3.4m-3.4 0l3.4-3.4M240.3 162.3l3.4 3.4m-3.4 0l3.4-3.4M241.3 162.3l3.4 3.4m-3.4 0l3.4-3.4M243.3 162.8l3.4 3.4m-3.4 0l3.4-3.4M245.3 163.3l3.4 3.4m-3.4 0l3.4-3.4M247.8 163.8l3.4 3.4m-3.4 0l3.4-3.4M244.3 163.3l3.4 3.4m-3.4 0l3.4-3.4M246.3 163.8l3.4 3.4m-3.4 0l3.4-3.4M250.3 164.3l3.4 3.4m-3.4 0l3.4-3.4M252.3 164.8l3.4 3.4m-3.4 0l3.4-3.4M248.8 164.3l3.4 3.4m-3.4 0l3.4-3.4M250.8 164.3l3.4 3.4m-3.4 0l3.4-3.4M252.8 164.8l3.4 3.4m-3.4 0l3.4-3.4M254.8 165.3l3.4 3.4m-3.4 0l3.4-3.4M257.3 165.3l3.4 3.4m-3.4 0l3.4-3.4M229.8 157.8l3.4 3.4m-3.4 0l3.4-3.4M230.8 158.3l3.4 3.4m-3.4 0l3.4-3.4M234.3 159.8l3.4 3.4m-3.4 0l3.4-3.4M235.3 160.3l3.4 3.4m-3.4 0l3.4-3.4M242.3 162.8l3.4 3.4m-3.4 0l3.4-3.4M243.8 162.8l3.4 3.4m-3.4 0l3.4-3.4M246.8 163.8l3.4 3.4m-3.4 0l3.4-3.4M245.8 163.3l3.4 3.4m-3.4 0l3.4-3.4M249.3 164.3l3.4 3.4m-3.4 0l3.4-3.4M251.3 164.3l3.4 3.4m-3.4 0l3.4-3.4M253.3 164.8l3.4 3.4m-3.4 0l3.4-3.4M255.3 165.3l3.4 3.4m-3.4 0l3.4-3.4M248.3 163.8l3.4 3.4m-3.4 0l3.4-3.4M251.8 164.8l3.4 3.4m-3.4 0l3.4-3.4M253.8 164.8l3.4 3.4m-3.4 0l3.4-3.4M259.3 165.8l3.4 3.4m-3.4 0l3.4-3.4M254.8 164.8l3.4 3.4m-3.4 0l3.4-3.4M256.3 165.3l3.4 3.4m-3.4 0l3.4-3.4M257.8 165.3l3.4 3.4m-3.4 0l3.4-3.4M259.8 165.8l3.4 3.4m-3.4 0l3.4-3.4M261.8 165.8l3.4 3.4m-3.4 0l3.4-3.4M263.8 165.8l3.4 3.4m-3.4 0l3.4-3.4M235.8 160.3l3.4 3.4m-3.4 0l3.4-3.4M238.8 161.3l3.4 3.4m-3.4 0l3.4-3.4M240.3 161.8l3.4 3.4m-3.4 0l3.4-3.4M242.3 162.3l3.4 3.4m-3.4 0l3.4-3.4M246.3 163.3l3.4 3.4m-3.4 0l3.4-3.4M248.8 163.8l3.4 3.4m-3.4 0l3.4-3.4M254.3 164.8l3.4 3.4m-3.4 0l3.4-3.4M255.8 165.3l3.4 3.4m-3.4 0l3.4-3.4M251.8 164.3l3.4 3.4m-3.4 0l3.4-3.4M258.3 165.3l3.4 3.4m-3.4 0l3.4-3.4M258.8 165.3l3.4 3.4m-3.4 0l3.4-3.4M260.3 165.8l3.4 3.4m-3.4 0l3.4-3.4M262.3 165.8l3.4 3.4m-3.4 0l3.4-3.4M265.8 166.3l3.4 3.4m-3.4 0l3.4-3.4M256.8 165.3l3.4 3.4m-3.4 0l3.4-3.4M261.3 165.8l3.4 3.4m-3.4 0l3.4-3.4M262.8 165.8l3.4 3.4m-3.4 0l3.4-3.4M264.3 165.8l3.4 3.4m-3.4 0l3.4-3.4M267.8 166.3l3.4 3.4m-3.4 0l3.4-3.4M269.8 166.3l3.4 3.4m-3.4 0l3.4-3.4M240.8 161.8l3.4 3.4m-3.4 0l3.4-3.4M242.8 162.3l3.4 3.4m-3.4 0l3.4-3.4M244.8 162.8l3.4 3.4m-3.4 0l3.4-3.4M244.3 162.8l3.4 3.4m-3.4 0l3.4-3.4M246.8 163.3l3.4 3.4m-3.4 0l3.4-3.4M255.3 164.8l3.4 3.4m-3.4 0l3.4-3.4M260.8 165.8l3.4 3.4m-3.4 0l3.4-3.4M259.3 165.3l3.4 3.4m-3.4 0l3.4-3.4M266.3 166.3l3.4 3.4m-3.4 0l3.4-3.4M259.8 165.3l3.4 3.4m-3.4 0l3.4-3.4M265.3 165.8l3.4 3.4m-3.4 0l3.4-3.4M266.8 166.3l3.4 3.4m-3.4 0l3.4-3.4M268.3 166.3l3.4 3.4m-3.4 0l3.4-3.4M271.3 166.3l3.4 3.4m-3.4 0l3.4-3.4M263.3 165.8l3.4 3.4m-3.4 0l3.4-3.4M264.8 165.8l3.4 3.4m-3.4 0l3.4-3.4M267.3 166.3l3.4 3.4m-3.4 0l3.4-3.4M268.8 166.3l3.4 3.4m-3.4 0l3.4-3.4M270.3 166.3l3.4 3.4m-3.4 0l3.4-3.4M271.8 166.3l3.4 3.4m-3.4 0l3.4-3.4M273.3 166.3l3.4 3.4m-3.4 0l3.4-3.4M274.8 166.8l3.4 3.4m-3.4 0l3.4-3.4M247.3 163.3l3.4 3.4m-3.4 0l3.4-3.4M247.8 163.3l3.4 3.4m-3.4 0l3.4-3.4M249.3 163.8l3.4 3.4m-3.4 0l3.4-3.4M250.3 163.8l3.4 3.4m-3.4 0l3.4-3.4M252.8 164.3l3.4 3.4m-3.4 0l3.4-3.4M252.3 164.3l3.4 3.4m-3.4 0l3.4-3.4M255.8 164.8l3.4 3.4m-3.4 0l3.4-3.4M260.3 165.3l3.4 3.4m-3.4 0l3.4-3.4M265.8 165.8l3.4 3.4m-3.4 0l3.4-3.4M266.8 165.8l3.4 3.4m-3.4 0l3.4-3.4M269.3 166.3l3.4 3.4m-3.4 0l3.4-3.4M270.8 166.3l3.4 3.4m-3.4 0l3.4-3.4M272.3 166.3l3.4 3.4m-3.4 0l3.4-3.4M273.8 166.3l3.4 3.4m-3.4 0l3.4-3.4M275.3 166.8l3.4 3.4m-3.4 0l3.4-3.4M276.8 166.8l3.4 3.4m-3.4 0l3.4-3.4M267.3 165.8l3.4 3.4m-3.4 0l3.4-3.4M267.8 165.8l3.4 3.4m-3.4 0l3.4-3.4M272.8 166.3l3.4 3.4m-3.4 0l3.4-3.4M274.3 166.3l3.4 3.4m-3.4 0l3.4-3.4M278.3 166.8l3.4 3.4m-3.4 0l3.4-3.4M279.8 166.8l3.4 3.4m-3.4 0l3.4-3.4M250.8 163.8l3.4 3.4m-3.4 0l3.4-3.4M251.3 163.8l3.4 3.4m-3.4 0l3.4-3.4M253.3 164.3l3.4 3.4m-3.4 0l3.4-3.4M254.3 164.3l3.4 3.4m-3.4 0l3.4-3.4M256.3 164.8l3.4 3.4m-3.4 0l3.4-3.4M257.8 164.8l3.4 3.4m-3.4 0l3.4-3.4M256.8 164.8l3.4 3.4m-3.4 0l3.4-3.4M257.3 164.8l3.4 3.4m-3.4 0l3.4-3.4M261.8 165.3l3.4 3.4m-3.4 0l3.4-3.4M261.3 165.3l3.4 3.4m-3.4 0l3.4-3.4M266.3 165.8l3.4 3.4m-3.4 0l3.4-3.4M275.3 166.3l3.4 3.4m-3.4 0l3.4-3.4M275.8 166.3l3.4 3.4m-3.4 0l3.4-3.4M277.3 166.8l3.4 3.4m-3.4 0l3.4-3.4M278.8 166.8l3.4 3.4m-3.4 0l3.4-3.4M274.8 166.3l3.4 3.4m-3.4 0l3.4-3.4M280.3 166.8l3.4 3.4m-3.4 0l3.4-3.4M281.8 166.8l3.4 3.4m-3.4 0l3.4-3.4M276.8 166.3l3.4 3.4m-3.4 0l3.4-3.4M277.8 166.8l3.4 3.4m-3.4 0l3.4-3.4M279.3 166.8l3.4 3.4m-3.4 0l3.4-3.4M283.3 166.8l3.4 3.4m-3.4 0l3.4-3.4M254.8 164.3l3.4 3.4m-3.4 0l3.4-3.4M255.3 164.3l3.4 3.4m-3.4 0l3.4-3.4M255.8 164.3l3.4 3.4m-3.4 0l3.4-3.4M256.3 164.3l3.4 3.4m-3.4 0l3.4-3.4M258.3 164.8l3.4 3.4m-3.4 0l3.4-3.4M258.8 164.8l3.4 3.4m-3.4 0l3.4-3.4M259.3 164.8l3.4 3.4m-3.4 0l3.4-3.4M260.8 165.3l3.4 3.4m-3.4 0l3.4-3.4M259.8 164.8l3.4 3.4m-3.4 0l3.4-3.4M262.3 165.3l3.4 3.4m-3.4 0l3.4-3.4M263.3 165.3l3.4 3.4m-3.4 0l3.4-3.4M262.8 165.3l3.4 3.4m-3.4 0l3.4-3.4M263.8 165.3l3.4 3.4m-3.4 0l3.4-3.4M268.8 165.8l3.4 3.4m-3.4 0l3.4-3.4M268.3 165.8l3.4 3.4m-3.4 0l3.4-3.4M276.3 166.3l3.4 3.4m-3.4 0l3.4-3.4M277.8 166.3l3.4 3.4m-3.4 0l3.4-3.4M278.8 166.3l3.4 3.4m-3.4 0l3.4-3.4M280.8 166.8l3.4 3.4m-3.4 0l3.4-3.4M282.3 166.8l3.4 3.4m-3.4 0l3.4-3.4M277.3 166.3l3.4 3.4m-3.4 0l3.4-3.4M279.3 166.3l3.4 3.4m-3.4 0l3.4-3.4M281.3 166.8l3.4 3.4m-3.4 0l3.4-3.4M258.8 164.3l3.4 3.4m-3.4 0l3.4-3.4M259.3 164.3l3.4 3.4m-3.4 0l3.4-3.4M259.8 164.3l3.4 3.4m-3.4 0l3.4-3.4M260.3 164.8l3.4 3.4m-3.4 0l3.4-3.4M260.8 164.8l3.4 3.4m-3.4 0l3.4-3.4M261.3 164.8l3.4 3.4m-3.4 0l3.4-3.4M261.8 164.8l3.4 3.4m-3.4 0l3.4-3.4M262.3 164.8l3.4 3.4m-3.4 0l3.4-3.4M262.8 164.8l3.4 3.4m-3.4 0l3.4-3.4M264.3 165.3l3.4 3.4m-3.4 0l3.4-3.4M265.3 165.3l3.4 3.4m-3.4 0l3.4-3.4M266.3 165.3l3.4 3.4m-3.4 0l3.4-3.4M264.8 165.3l3.4 3.4m-3.4 0l3.4-3.4M265.8 165.3l3.4 3.4m-3.4 0l3.4-3.4M266.8 165.3l3.4 3.4m-3.4 0l3.4-3.4M270.3 165.8l3.4 3.4m-3.4 0l3.4-3.4M269.3 165.8l3.4 3.4m-3.4 0l3.4-3.4M269.8 165.8l3.4 3.4m-3.4 0l3.4-3.4M271.3 165.8l3.4 3.4m-3.4 0l3.4-3.4M270.8 165.8l3.4 3.4m-3.4 0l3.4-3.4M278.3 166.3l3.4 3.4m-3.4 0l3.4-3.4M279.8 166.3l3.4 3.4m-3.4 0l3.4-3.4M280.8 166.3l3.4 3.4m-3.4 0l3.4-3.4M282.8 166.8l3.4 3.4m-3.4 0l3.4-3.4M281.3 166.3l3.4 3.4m-3.4 0l3.4-3.4M280.3 166.3l3.4 3.4m-3.4 0l3.4-3.4M281.8 166.3l3.4 3.4m-3.4 0l3.4-3.4M282.3 166.3l3.4 3.4m-3.4 0l3.4-3.4M283.3 166.3l3.4 3.4m-3.4 0l3.4-3.4" stroke="#56B4E9" stroke-width="1.1"/>
<path d="M86.6 24.6h3.8v3.8h-3.8zM108.1 51.6h3.8v3.8h-3.8zM120.6 64.6h3.8v3.8h-3.8zM129.6 60.6h3.8v3.8h-3.8zM136.6 73.1h3.8v3.8h-3.8zM142.1 82.1h3.8v3.8h-3.8zM151.1 89.1h3.8v3.8h-3.8zM154.6 95.1h3.8v3.8h-3.8zM163.6 104.1h3.8v3.8h-3.8zM154.6 85.6h3.8v3.8h-3.8zM158.1 93.1h3.8v3.8h-3.8zM161.1 98.6h3.8v3.8h-3.8zM166.1 103.1h3.8v3.8h-3.8zM168.1 107.6h3.8v3.8h-3.8zM174.6 113.6h3.8v3.8h-3.8zM176.1 115.1h3.8v3.8h-3.8zM177.6 117.1h3.8v3.8h-3.8zM182.6 122.1h3.8v3.8h-3.8zM188.6 129.1h3.8v3.8h-3.8zM172.6 106.6h3.8v3.8h-3.8zM174.6 111.1h3.8v3.8h-3.8zM176.1 113.6h3.8v3.8h-3.8zM179.6 117.6h3.8v3.8h-3.8zM181.1 119.6h3.8v3.8h-3.8zM185.1 124.6h3.8v3.8h-3.8zM186.6 125.6h3.8v3.8h-3.8zM187.6 127.1h3.8v3.8h-3.8zM191.1 131.1h3.8v3.8h-3.8zM196.1 136.1h3.8v3.8h-3.8zM194.1 134.1h3.8v3.8h-3.8zM195.1 135.1h3.8v3.8h-3.8zM197.6 138.1h3.8v3.8h-3.8zM201.6 142.6h3.8v3.8h-3.8zM206.6 147.6h3.8v3.8h-3.8zM186.6 124.1h3.8v3.8h-3.8zM187.6 125.6h3.8v3.8h-3.8zM188.6 127.1h3.8v3.8h-3.8zM191.1 129.6h3.8v3.8h-3.8zM192.1 131.1h3.8v3.8h-3.8zM195.1 134.6h3.8v3.8h-3.8zM196.1 135.6h3.8v3.8h-3.8zM196.6 136.6h3.8v3.8h-3.8zM199.6 139.6h3.8v3.8h-3.8zM203.1 143.6h3.8v3.8h-3.8zM201.6 142.1h3.8v3.8h-3.8zM202.6 143.1h3.8v3.8h-3.8zM204.6 145.1h3.8v3.8h-3.8zM208.1 148.6h3.8v3.8h-3.8zM212.1 152.6h3.8v3.8h-3.8zM208.6 149.1h3.8v3.8h-3.8zM210.1 151.1h3.8v3.8h-3.8zM213.1 153.6h3.8v3.8h-3.8zM216.6 157.1h3.8v3.8h-3.8zM220.6 161.1h3.8v3.8h-3.8zM197.6 136.6h3.8v3.8h-3.8zM198.6 137.6h3.8v3.8h-3.8zM199.6 138.6h3.8v3.8h-3.8zM201.1 140.6h3.8v3.8h-3.8zM201.6 141.6h3.8v3.8h-3.8zM204.1 144.1h3.8v3.8h-3.8zM204.6 144.6h3.8v3.8h-3.8zM205.1 145.6h3.8v3.8h-3.8zM207.1 147.6h3.8v3.8h-3.8zM209.1 149.6h3.8v3.8h-3.8zM209.6 150.1h3.8v3.8h-3.8zM211.6 152.1h3.8v3.8h-3.8zM214.1 154.6h3.8v3.8h-3.8zM217.6 158.1h3.8v3.8h-3.8zM214.6 155.1h3.8v3.8h-3.8zM216.1 156.6h3.8v3.8h-3.8zM218.1 159.1h3.8v3.8h-3.8zM221.1 161.6h3.8v3.8h-3.8zM224.6 165.1h3.8v3.8h-3.8zM219.1 159.6h3.8v3.8h-3.8zM219.6 160.1h3.8v3.8h-3.8zM221.1 161.1h3.8v3.8h-3.8zM223.1 163.1h3.8v3.8h-3.8zM225.6 165.6h3.8v3.8h-3.8zM228.6 168.6h3.8v3.8h-3.8zM231.6 171.6h3.8v3.8h-3.8zM207.1 147.1h3.8v3.8h-3.8zM208.1 147.6h3.8v3.8h-3.8zM208.6 148.1h3.8v3.8h-3.8zM209.6 149.6h3.8v3.8h-3.8zM210.1 150.1h3.8v3.8h-3.8zM212.1 152.1h3.8v3.8h-3.8zM212.6 152.6h3.8v3.8h-3.8zM213.1 153.1h3.8v3.8h-3.8zM217.1 157.6h3.8v3.8h-3.8zM218.1 158.1h3.8v3.8h-3.8zM220.1 160.6h3.8v3.8h-3.8zM220.6 160.6h3.8v3.8h-3.8zM221.6 162.1h3.8v3.8h-3.8zM223.6 164.1h3.8v3.8h-3.8zM226.1 166.1h3.8v3.8h-3.8zM229.1 169.1h3.8v3.8h-3.8zM224.6 164.6h3.8v3.8h-3.8zM225.6 166.1h3.8v3.8h-3.8zM227.6 167.6h3.8v3.8h-3.8zM229.6 169.6h3.8v3.8h-3.8zM232.6 172.1h3.8v3.8h-3.8zM235.1 174.6h3.8v3.8h-3.8zM230.1 169.6h3.8v3.8h-3.8zM231.6 171.1h3.8v3.8h-3.8zM233.6 173.1h3.8v3.8h-3.8zM235.6 175.1h3.8v3.8h-3.8zM238.6 177.1h3.8v3.8h-3.8zM241.6 179.6h3.8v3.8h-3.8zM215.6 155.6h3.8v3.8h-3.8zM216.1 156.1h3.8v3.8h-3.8zM216.6 156.6h3.8v3.8h-3.8zM217.6 157.6h3.8v3.8h-3.8zM219.1 159.1h3.8v3.8h-3.8zM219.6 159.6h3.8v3.8h-3.8zM220.1 160.1h3.8v3.8h-3.8zM222.6 162.6h3.8v3.8h-3.8zM224.1 164.1h3.8v3.8h-3.8zM228.1 168.1h3.8v3.8h-3.8zM227.1 167.1h3.8v3.8h-3.8zM231.1 170.6h3.8v3.8h-3.8zM229.6 169.1h3.8v3.8h-3.8zM230.6 170.1h3.8v3.8h-3.8zM232.1 171.6h3.8v3.8h-3.8zM234.1 173.1h3.8v3.8h-3.8zM236.1 175.1h3.8v3.8h-3.8zM239.1 177.6h3.8v3.8h-3.8zM233.1 172.6h3.8v3.8h-3.8zM233.6 172.6h3.8v3.8h-3.8zM234.1 173.6h3.8v3.8h-3.8zM235.6 174.6h3.8v3.8h-3.8zM237.1 176.1h3.8v3.8h-3.8zM239.6 178.1h3.8v3.8h-3.8zM244.6 181.6h3.8v3.8h-3.8zM238.1 176.6h3.8v3.8h-3.8zM240.6 179.1h3.8v3.8h-3.8zM242.6 180.6h3.8v3.8h-3.8zM244.6 182.1h3.8v3.8h-3.8zM247.1 183.6h3.8v3.8h-3.8zM249.6 185.6h3.8v3.8h-3.8zM223.1 162.6h3.8v3.8h-3.8zM223.6 163.6h3.8v3.8h-3.8zM224.6 164.1h3.8v3.8h-3.8zM226.6 166.1h3.8v3.8h-3.8zM227.6 167.1h3.8v3.8h-3.8zM229.1 168.6h3.8v3.8h-3.8zM228.6 168.1h3.8v3.8h-3.8zM232.6 171.6h3.8v3.8h-3.8zM237.6 176.6h3.8v3.8h-3.8zM234.6 173.6h3.8v3.8h-3.8zM236.6 175.6h3.8v3.8h-3.8zM238.1 177.1h3.8v3.8h-3.8zM240.1 178.6h3.8v3.8h-3.8zM237.6 176.1h3.8v3.8h-3.8zM241.1 179.1h3.8v3.8h-3.8zM243.1 180.6h3.8v3.8h-3.8zM245.1 182.1h3.8v3.8h-3.8zM247.6 184.1h3.8v3.8h-3.8zM244.1 181.6h3.8v3.8h-3.8zM246.1 182.6h3.8v3.8h-3.8zM250.1 185.6h3.8v3.8h-3.8zM252.1 187.1h3.8v3.8h-3.8zM246.1 183.1h3.8v3.8h-3.8zM247.1 184.1h3.8v3.8h-3.8zM248.6 185.1h3.8v3.8h-3.8zM250.6 186.1h3.8v3.8h-3.8zM252.6 187.6h3.8v3.8h-3.8zM254.6 188.6h3.8v3.8h-3.8zM257.1 190.1h3.8v3.8h-3.8zM229.6 168.6h3.8v3.8h-3.8zM231.1 170.1h3.8v3.8h-3.8zM232.1 171.1h3.8v3.8h-3.8zM235.1 174.1h3.8v3.8h-3.8zM240.1 178.1h3.8v3.8h-3.8zM242.1 180.1h3.8v3.8h-3.8zM242.6 180.1h3.8v3.8h-3.8zM242.1 179.6h3.8v3.8h-3.8zM243.6 181.1h3.8v3.8h-3.8zM246.6 183.1h3.8v3.8h-3.8zM248.6 184.6h3.8v3.8h-3.8zM245.6 182.6h3.8v3.8h-3.8zM249.1 185.1h3.8v3.8h-3.8zM251.1 186.1h3.8v3.8h-3.8zM253.1 187.6h3.8v3.8h-3.8zM255.1 188.6h3.8v3.8h-3.8zM248.1 184.1h3.8v3.8h-3.8zM251.6 187.1h3.8v3.8h-3.8zM253.6 188.1h3.8v3.8h-3.8zM255.1 189.1h3.8v3.8h-3.8zM259.1 191.1h3.8v3.8h-3.8zM251.1 186.6h3.8v3.8h-3.8zM251.6 186.6h3.8v3.8h-3.8zM256.1 189.6h3.8v3.8h-3.8zM257.6 190.6h3.8v3.8h-3.8zM259.6 191.1h3.8v3.8h-3.8zM261.6 192.1h3.8v3.8h-3.8zM263.6 193.1h3.8v3.8h-3.8zM235.6 174.1h3.8v3.8h-3.8zM236.6 175.1h3.8v3.8h-3.8zM239.6 177.6h3.8v3.8h-3.8zM241.6 179.1h3.8v3.8h-3.8zM252.6 187.1h3.8v3.8h-3.8zM254.1 188.1h3.8v3.8h-3.8zM255.6 189.1h3.8v3.8h-3.8zM258.1 190.6h3.8v3.8h-3.8zM259.6 191.6h3.8v3.8h-3.8zM261.6 192.6h3.8v3.8h-3.8zM257.6 190.1h3.8v3.8h-3.8zM258.6 191.1h3.8v3.8h-3.8zM260.1 191.6h3.8v3.8h-3.8zM262.1 192.6h3.8v3.8h-3.8zM265.6 194.1h3.8v3.8h-3.8zM256.6 190.1h3.8v3.8h-3.8zM261.1 192.1h3.8v3.8h-3.8zM262.6 192.6h3.8v3.8h-3.8zM264.1 193.6h3.8v3.8h-3.8zM267.6 195.1h3.8v3.8h-3.8zM269.6 195.6h3.8v3.8h-3.8zM240.6 178.6h3.8v3.8h-3.8zM241.1 178.6h3.8v3.8h-3.8zM243.6 180.6h3.8v3.8h-3.8zM244.1 181.1h3.8v3.8h-3.8zM248.1 184.6h3.8v3.8h-3.8zM260.6 191.6h3.8v3.8h-3.8zM256.6 189.6h3.8v3.8h-3.8zM260.6 192.1h3.8v3.8h-3.8zM262.6 193.1h3.8v3.8h-3.8zM266.1 194.1h3.8v3.8h-3.8zM265.1 193.6h3.8v3.8h-3.8zM266.6 194.6h3.8v3.8h-3.8zM268.1 195.1h3.8v3.8h-3.8zM271.1 196.1h3.8v3.8h-3.8zM263.1 193.1h3.8v3.8h-3.8zM264.6 193.6h3.8v3.8h-3.8zM267.1 194.6h3.8v3.8h-3.8zM268.6 195.1h3.8v3.8h-3.8zM270.1 195.6h3.8v3.8h-3.8zM271.6 196.1h3.8v3.8h-3.8zM273.1 196.6h3.8v3.8h-3.8zM274.6 197.1h3.8v3.8h-3.8zM247.6 183.6h3.8v3.8h-3.8zM265.1 194.1h3.8v3.8h-3.8zM269.1 195.6h3.8v3.8h-3.8zM270.6 196.1h3.8v3.8h-3.8zM272.1 196.6h3.8v3.8h-3.8zM273.6 197.1h3.8v3.8h-3.8zM275.1 197.1h3.8v3.8h-3.8zM276.6 197.6h3.8v3.8h-3.8zM272.6 196.6h3.8v3.8h-3.8zM274.1 197.1h3.8v3.8h-3.8zM275.1 197.6h3.8v3.8h-3.8zM278.1 198.1h3.8v3.8h-3.8zM279.6 198.6h3.8v3.8h-3.8zM250.6 185.6h3.8v3.8h-3.8zM267.6 194.6h3.8v3.8h-3.8zM275.6 197.6h3.8v3.8h-3.8zM277.1 197.6h3.8v3.8h-3.8zM278.6 198.1h3.8v3.8h-3.8zM280.1 198.6h3.8v3.8h-3.8zM281.6 198.6h3.8v3.8h-3.8zM277.6 198.1h3.8v3.8h-3.8zM279.1 198.1h3.8v3.8h-3.8zM283.1 199.1h3.8v3.8h-3.8zM284.6 199.1h3.8v3.8h-3.8zM256.1 189.1h3.8v3.8h-3.8zM258.6 190.6h3.8v3.8h-3.8zM258.1 190.1h3.8v3.8h-3.8zM277.1 198.1h3.8v3.8h-3.8zM276.1 197.6h3.8v3.8h-3.8zM280.6 198.6h3.8v3.8h-3.8zM282.1 199.1h3.8v3.8h-3.8zM286.1 199.6h3.8v3.8h-3.8zM281.1 198.6h3.8v3.8h-3.8zM283.6 199.1h3.8v3.8h-3.8zM284.6 199.6h3.8v3.8h-3.8zM287.1 199.6h3.8v3.8h-3.8zM288.6 200.1h3.8v3.8h-3.8zM273.6 196.6h3.8v3.8h-3.8zM282.6 199.1h3.8v3.8h-3.8zM287.6 199.6h3.8v3.8h-3.8zM284.1 199.1h3.8v3.8h-3.8zM285.1 199.6h3.8v3.8h-3.8zM290.1 200.1h3.8v3.8h-3.8zM285.6 199.6h3.8v3.8h-3.8zM286.6 199.6h3.8v3.8h-3.8zM289.1 200.1h3.8v3.8h-3.8zM291.6 200.1h3.8v3.8h-3.8zM292.6 200.6h3.8v3.8h-3.8zM263.1 192.6h3.8v3.8h-3.8zM270.6 195.6h3.8v3.8h-3.8zM269.1 195.1h3.8v3.8h-3.8zM288.1 199.6h3.8v3.8h-3.8zM288.1 200.1h3.8v3.8h-3.8zM290.6 200.1h3.8v3.8h-3.8zM294.1 200.6h3.8v3.8h-3.8zM289.6 200.1h3.8v3.8h-3.8zM293.1 200.6h3.8v3.8h-3.8zM295.1 200.6h3.8v3.8h-3.8zM296.6 200.6h3.8v3.8h-3.8zM266.6 194.1h3.8v3.8h-3.8zM291.1 200.1h3.8v3.8h-3.8zM292.1 200.1h3.8v3.8h-3.8zM292.1 200.6h3.8v3.8h-3.8zM295.6 200.6h3.8v3.8h-3.8zM297.6 201.1h3.8v3.8h-3.8zM293.6 200.6h3.8v3.8h-3.8zM294.6 200.6h3.8v3.8h-3.8zM299.1 201.1h3.8v3.8h-3.8zM300.1 201.1h3.8v3.8h-3.8zM272.1 196.1h3.8v3.8h-3.8zM282.1 198.6h3.8v3.8h-3.8zM296.1 200.6h3.8v3.8h-3.8zM297.1 200.6h3.8v3.8h-3.8zM298.1 201.1h3.8v3.8h-3.8zM301.1 201.1h3.8v3.8h-3.8zM302.1 201.1h3.8v3.8h-3.8zM303.6 201.1h3.8v3.8h-3.8zM275.6 197.1h3.8v3.8h-3.8zM279.6 198.1h3.8v3.8h-3.8zM297.6 200.6h3.8v3.8h-3.8zM302.6 201.1h3.8v3.8h-3.8zM292.6 200.1h3.8v3.8h-3.8zM298.6 201.1h3.8v3.8h-3.8zM299.6 201.1h3.8v3.8h-3.8zM300.6 201.1h3.8v3.8h-3.8zM301.6 201.1h3.8v3.8h-3.8zM304.6 201.1h3.8v3.8h-3.8zM305.6 201.1h3.8v3.8h-3.8zM306.6 201.6h3.8v3.8h-3.8zM277.6 197.6h3.8v3.8h-3.8zM303.1 201.1h3.8v3.8h-3.8zM307.6 201.6h3.8v3.8h-3.8zM298.1 200.6h3.8v3.8h-3.8zM304.1 201.1h3.8v3.8h-3.8zM305.1 201.1h3.8v3.8h-3.8zM308.6 201.6h3.8v3.8h-3.8zM309.6 201.6h3.8v3.8h-3.8zM285.1 199.1h3.8v3.8h-3.8zM306.1 201.1h3.8v3.8h-3.8zM307.1 201.6h3.8v3.8h-3.8zM310.6 201.6h3.8v3.8h-3.8zM306.6 201.1h3.8v3.8h-3.8zM308.1 201.6h3.8v3.8h-3.8zM309.1 201.6h3.8v3.8h-3.8zM311.6 201.6h3.8v3.8h-3.8zM312.6 201.6h3.8v3.8h-3.8zM288.6 199.6h3.8v3.8h-3.8zM310.1 201.6h3.8v3.8h-3.8zM313.6 201.6h3.8v3.8h-3.8zM311.1 201.6h3.8v3.8h-3.8zM314.1 201.6h3.8v3.8h-3.8zM315.1 201.6h3.8v3.8h-3.8zM285.6 199.1h3.8v3.8h-3.8zM293.1 200.1h3.8v3.8h-3.8zM298.6 200.6h3.8v3.8h-3.8zM314.6 201.6h3.8v3.8h-3.8zM307.1 201.1h3.8v3.8h-3.8zM312.1 201.6h3.8v3.8h-3.8zM316.1 201.6h3.8v3.8h-3.8zM307.6 201.1h3.8v3.8h-3.8zM313.1 201.6h3.8v3.8h-3.8zM315.6 201.6h3.8v3.8h-3.8zM317.1 201.6h3.8v3.8h-3.8zM318.1 201.6h3.8v3.8h-3.8zM289.1 199.6h3.8v3.8h-3.8zM318.6 201.6h3.8v3.8h-3.8zM308.1 201.1h3.8v3.8h-3.8zM308.6 201.1h3.8v3.8h-3.8zM316.6 201.6h3.8v3.8h-3.8zM319.6 201.6h3.8v3.8h-3.8zM320.6 201.6h3.8v3.8h-3.8zM289.6 199.6h3.8v3.8h-3.8zM293.6 200.1h3.8v3.8h-3.8zM299.1 200.6h3.8v3.8h-3.8zM317.6 201.6h3.8v3.8h-3.8zM319.1 201.6h3.8v3.8h-3.8zM321.1 201.6h3.8v3.8h-3.8zM322.1 201.6h3.8v3.8h-3.8zM323.1 201.6h3.8v3.8h-3.8zM294.1 200.1h3.8v3.8h-3.8zM294.6 200.1h3.8v3.8h-3.8zM299.6 200.6h3.8v3.8h-3.8zM309.1 201.1h3.8v3.8h-3.8zM320.1 201.6h3.8v3.8h-3.8zM321.6 201.6h3.8v3.8h-3.8zM323.6 201.6h3.8v3.8h-3.8zM324.6 201.6h3.8v3.8h-3.8zM325.1 201.6h3.8v3.8h-3.8zM295.1 200.1h3.8v3.8h-3.8zM300.6 200.6h3.8v3.8h-3.8zM300.1 200.6h3.8v3.8h-3.8zM309.6 201.1h3.8v3.8h-3.8zM322.6 201.6h3.8v3.8h-3.8zM326.1 201.6h3.8v3.8h-3.8zM324.1 201.6h3.8v3.8h-3.8zM326.6 201.6h3.8v3.8h-3.8zM327.6 201.6h3.8v3.8h-3.8zM295.6 200.1h3.8v3.8h-3.8zM296.1 200.1h3.8v3.8h-3.8zM301.1 200.6h3.8v3.8h-3.8zM301.6 200.6h3.8v3.8h-3.8zM310.1 201.1h3.8v3.8h-3.8zM325.6 201.6h3.8v3.8h-3.8zM328.1 201.6h3.8v3.8h-3.8zM327.1 201.6h3.8v3.8h-3.8zM329.1 201.6h3.8v3.8h-3.8zM329.6 201.6h3.8v3.8h-3.8zM297.6 200.1h3.8v3.8h-3.8zM302.1 200.6h3.8v3.8h-3.8zM302.6 200.6h3.8v3.8h-3.8zM310.6 201.1h3.8v3.8h-3.8zM311.1 201.1h3.8v3.8h-3.8zM330.6 201.6h3.8v3.8h-3.8zM328.6 201.6h3.8v3.8h-3.8zM331.1 201.6h3.8v3.8h-3.8zM331.6 201.6h3.8v3.8h-3.8zM303.1 200.6h3.8v3.8h-3.8zM303.6 200.6h3.8v3.8h-3.8zM304.1 200.6h3.8v3.8h-3.8zM311.6 201.1h3.8v3.8h-3.8zM312.1 201.1h3.8v3.8h-3.8zM312.6 201.1h3.8v3.8h-3.8zM332.6 201.6h3.8v3.8h-3.8zM330.1 201.6h3.8v3.8h-3.8zM333.1 201.6h3.8v3.8h-3.8zM333.6 201.6h3.8v3.8h-3.8zM304.6 200.6h3.8v3.8h-3.8zM305.1 200.6h3.8v3.8h-3.8zM305.6 200.6h3.8v3.8h-3.8zM306.1 200.6h3.8v3.8h-3.8zM313.1 201.1h3.8v3.8h-3.8zM313.6 201.1h3.8v3.8h-3.8zM332.1 201.6h3.8v3.8h-3.8zM334.6 201.6h3.8v3.8h-3.8zM335.1 201.6h3.8v3.8h-3.8zM335.6 201.6h3.8v3.8h-3.8z" stroke="#E69F00" stroke-width="0.9"/>
<path d="M88.3 22.64L294.84 237.95" stroke="#000" stroke-width="1.65"/>
<rect x="88.3" y="14.35" width="286" height="223.6" fill="none" stroke="#000" stroke-width="1.4"/>
<path d="M341.2 23.8h4.2m-2.1-2.1v4.2" stroke="#9400D3" stroke-width="1.15"/>
<path d="M341.6 34.1l3.4 3.4m-3.4 0l3.4-3.4" stroke="#009E73" stroke-width="1.15"/>
<path d="M341.2 47.9h4.2m-2.1-2.1v4.2M341.6 46.2l3.4 3.4m-3.4 0l3.4-3.4" stroke="#56B4E9" stroke-width="1.1"/>
<path d="M341.4 58.4h3.8v3.8h-3.8z" stroke="#E69F00" stroke-width="0.9"/>
<path d="M327.5 72H359.6" stroke="#000" stroke-width="1.4"/>
<g class="t">
<text transform="translate(81.2 18.9) scale(0.93 1)" text-anchor="end">1.000000</text>
<text transform="translate(81.2 56.17) scale(0.93 1)" text-anchor="end">0.100000</text>
<text transform="translate(81.2 93.43) scale(0.93 1)" text-anchor="end">0.010000</text>
<text transform="translate(81.2 130.7) scale(0.93 1)" text-anchor="end">0.001000</text>
<text transform="translate(81.2 167.97) scale(0.93 1)" text-anchor="end">0.000100</text>
<text transform="translate(81.2 205.23) scale(0.93 1)" text-anchor="end">0.000010</text>
<text transform="translate(81.2 242.5) scale(0.93 1)" text-anchor="end">0.000001</text>
<text transform="translate(89.9 254.9) scale(0.93 1)" text-anchor="middle">1</text>
<text transform="translate(232.9 254.9) scale(0.93 1)" text-anchor="middle">10</text>
<text transform="translate(375.9 254.9) scale(0.93 1)" text-anchor="middle">100</text>
<text transform="translate(231.1 272.7) scale(0.93 1)" text-anchor="middle">r</text>
<text transform="translate(14.1 125.8) rotate(-90) scale(1 1)" text-anchor="middle" font-size="12">K(r)</text>
<text transform="translate(314.9 28.8) scale(0.91 1)" text-anchor="end">K(r) L=8</text>
<text transform="translate(315.8 22.5) scale(0.85 1)" font-size="10.6">3</text>
<text transform="translate(314.9 40.9) scale(0.91 1)" text-anchor="end">K(r) L=16</text>
<text transform="translate(315.8 34.6) scale(0.85 1)" font-size="10.6">3</text>
<text transform="translate(314.9 53) scale(0.91 1)" text-anchor="end">K(r) L=32</text>
<text transform="translate(315.8 46.7) scale(0.85 1)" font-size="10.6">3</text>
<text transform="translate(314.9 65.2) scale(0.91 1)" text-anchor="end">K(r) L=64</text>
<text transform="translate(315.8 58.9) scale(0.85 1)" font-size="10.6">3</text>
<text transform="translate(314.9 77.6) scale(0.91 1)" text-anchor="end">fit: 0.599/r</text>
<text transform="translate(315.8 71.3) scale(0.85 1)" font-size="10.6">4</text>
</g>
</svg>
</body></html>
